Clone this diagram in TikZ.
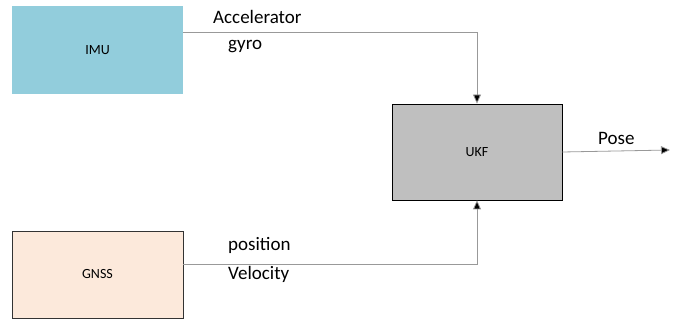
\documentclass[tikz,border=0pt]{standalone}
\usepackage{fontspec}
\setmainfont{Carlito}
\usetikzlibrary{arrows.meta}
\begin{document}
\begin{tikzpicture}[x=1pt,y=-1pt,
  blk/.style={minimum width=171pt,minimum height=88pt,inner sep=0pt,font=\fontsize{14}{16}\selectfont},
  wire/.style={draw=gray!80,line width=0.8pt},
  tip/.style={-{Triangle[length=9pt,width=8pt,fill=black]}},
  lbl/.style={font=\fontsize{19}{22}\selectfont,inner sep=0pt,anchor=west}]
\useasboundingbox (0,0) rectangle (689,323);
\node[blk,fill={rgb,255:red,146;green,205;blue,220}] (imu) at (97.5,50) {IMU};
\node[blk,fill={rgb,255:red,252;green,233;blue,219},draw=black!80,line width=0.8pt,minimum height=87pt] (gnss) at (97.5,274.5) {GNSS};
\node[blk,fill={rgb,255:red,191;green,191;blue,191},draw=black,line width=0.8pt,minimum width=170pt,minimum height=96pt] (ukf) at (477,152) {UKF};
\coordinate (c1) at (477,32);
\coordinate (c2) at (477,264);
\coordinate (out) at (670,150);
\draw[wire,tip] (imu.east |- c1) -- (c1) -- (ukf.north);
\draw[wire,tip] (gnss.east |- c2) -- (c2) -- (ukf.south);
\draw[wire,tip] (ukf.east) -- (out);
\node[lbl] (acc) at (213,17) {Accelerator};
\node[lbl] (gyro) at (228,47) {gyro};
\node[lbl] (pos) at (228,245) {position};
\node[lbl] (vel) at (228,274) {Velocity};
\node[lbl] (pose) at (598,138) {Pose};
\end{tikzpicture}
\end{document}
